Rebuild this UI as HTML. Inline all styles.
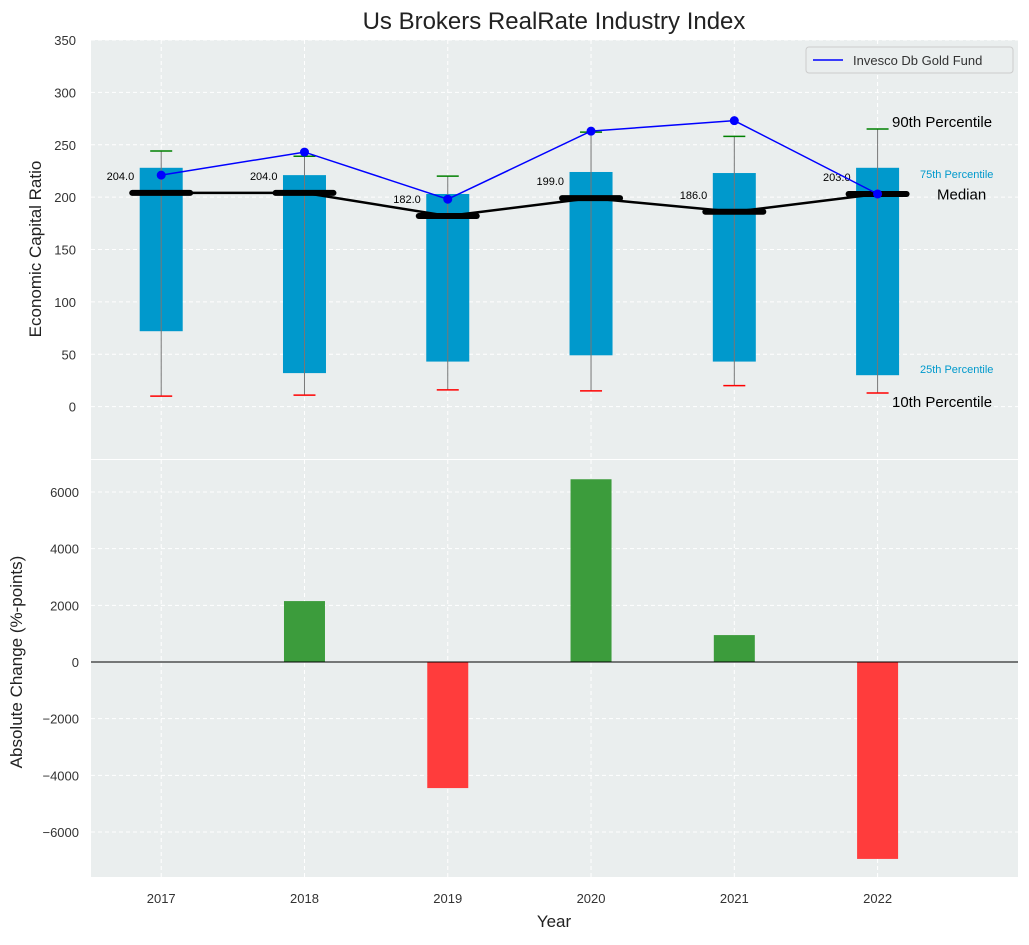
<!DOCTYPE html>
<html><head><meta charset="utf-8"><style>
body{margin:0;background:#fff;font-family:"Liberation Sans",sans-serif;}
svg text{font-family:"Liberation Sans",sans-serif;}
</style></head><body>
<svg id="c" width="1029" height="940"></svg>
<script>
const years=["2017","2018","2019","2020","2021","2022"];
const q1=[72,32,43,49,43,30];
const q3=[228,221,203,224,223,228];
const p10=[10,11,16,15,20,13];
const p90=[244,239,220,262,258,265];
const median=[204,204,182,199,186,203];
const gold=[221,243,198,263,273,203];
const change=[0,2150,-4450,6450,950,-6950];
const topTicks=[0,50,100,150,200,250,300,350];
const botTicks=[-6000,-4000,-2000,0,2000,4000,6000];

const NS="http://www.w3.org/2000/svg";
const svg=document.getElementById('c');
function el(t,a,p){const e=document.createElementNS(NS,t);for(const k in a)e.setAttribute(k,a[k]);(p||svg).appendChild(e);return e;}
const L=91,R=1018,T1=40,B1=459,T2=460,B2=877;
const x=i=>L+(i+0.49)*(R-L)/6.47;
const y1=v=>B1-(v+50)*(B1-T1)/400;
const y2=v=>662-v*170/6000;

let e;
e=el('rect',{x:L,y:T1,width:R-L,height:B1-T1,fill:'#eaeeee'});

e=el('rect',{x:L,y:T2,width:R-L,height:B2-T2,fill:'#eaeeee'});


years.forEach((yr,i)=>{
 el('line',{x1:x(i),x2:x(i),y1:T1,y2:B1,stroke:'#fff','stroke-dasharray':'4,3'});
 el('line',{x1:x(i),x2:x(i),y1:T2,y2:B2,stroke:'#fff','stroke-dasharray':'4,3'});
 e=el('text',{x:x(i),y:903,'text-anchor':'middle','font-size':13,fill:'#333'});e.textContent=yr;
 
});
topTicks.forEach(v=>{
 el('line',{x1:L,x2:R,y1:y1(v),y2:y1(v),stroke:'#fff','stroke-dasharray':'4,3'});
 e=el('text',{x:76,y:y1(v)+5,'text-anchor':'end','font-size':13,fill:'#333'});e.textContent=v;
 
});
botTicks.forEach(v=>{
 el('line',{x1:L,x2:R,y1:y2(v),y2:y2(v),stroke:'#fff','stroke-dasharray':'4,3'});
 e=el('text',{x:79,y:y2(v)+5,'text-anchor':'end','font-size':13,fill:'#333'});e.textContent=v<0?'\u2212'+(-v):v;
 
});

years.forEach((yr,i)=>{
 const cx=x(i);
 e=el('rect',{x:cx-21.5,y:y1(q3[i]),width:43,height:y1(q1[i])-y1(q3[i]),fill:'#0099cc'});
 
 el('line',{x1:cx,x2:cx,y1:y1(p10[i]),y2:y1(p90[i]),stroke:'#777','stroke-width':1});
 e=el('line',{x1:cx-11,x2:cx+11,y1:y1(p10[i]),y2:y1(p10[i]),stroke:'red','stroke-width':1.5});
 
 e=el('line',{x1:cx-11,x2:cx+11,y1:y1(p90[i]),y2:y1(p90[i]),stroke:'green','stroke-width':1.5});
 
 e=el('line',{x1:cx-29,x2:cx+29,y1:y1(median[i]),y2:y1(median[i]),stroke:'#000','stroke-width':6,'stroke-linecap':'round'});
 
 e=el('text',{x:cx-27,y:y1(median[i])-13,'text-anchor':'end','font-size':11,fill:'#000'});e.textContent=median[i].toFixed(1);
 
});
e=el('polyline',{points:median.map((v,i)=>x(i)+','+y1(v)).join(' '),fill:'none',stroke:'#000','stroke-width':2.5});

e=el('polyline',{points:gold.map((v,i)=>x(i)+','+y1(v)).join(' '),fill:'none',stroke:'blue','stroke-width':1.5});

gold.forEach((v,i)=>{e=el('circle',{cx:x(i),cy:y1(v),r:4.5,fill:'blue'});
 });

// right annotations (label anchor values in data units)
const annY=[272,222,203,36,5];
const ann=[['90th Percentile',15,'#000',892],['75th Percentile',11,'#0099cc',920],['Median',15,'#000',937],['25th Percentile',11,'#0099cc',920],['10th Percentile',15,'#000',892]];
ann.forEach((a,k)=>{
 e=el('text',{x:a[3],y:y1(annY[k])+a[1]*0.36,'font-size':a[1],fill:a[2]});e.textContent=a[0];
 
});

const lg=el('g',{});
el('rect',{x:806,y:47,width:207,height:26,fill:'#eaeeee',stroke:'#ccc',rx:3},lg);
el('line',{x1:813,x2:843,y1:60,y2:60,stroke:'blue','stroke-width':1.5},lg);
e=el('text',{x:853,y:65,'font-size':13,fill:'#333'},lg);e.textContent='Invesco Db Gold Fund';

change.forEach((v,i)=>{
 if(v===0)return;
 const a=y2(Math.max(v,0)),b=y2(Math.min(v,0));
 e=el('rect',{x:x(i)-20.5,y:a,width:41,height:b-a,fill:v>0?'#3c9c3c':'#ff3c3c'});
 
});
el('line',{x1:L,x2:R,y1:y2(0),y2:y2(0),stroke:'#000','stroke-width':1});

e=el('text',{x:554,y:29,'text-anchor':'middle','font-size':24,fill:'#222'});e.textContent='Us Brokers RealRate Industry Index';

e=el('text',{x:554,y:927,'text-anchor':'middle','font-size':17,fill:'#222'});e.textContent='Year';

e=el('text',{x:0,y:0,'text-anchor':'middle','font-size':17,fill:'#222',transform:'translate(41,249) rotate(-90)'});e.textContent='Economic Capital Ratio';

e=el('text',{x:0,y:0,'text-anchor':'middle','font-size':17,fill:'#222',transform:'translate(22,662) rotate(-90)'});e.textContent='Absolute Change (%-points)';

</script>
</body></html>
